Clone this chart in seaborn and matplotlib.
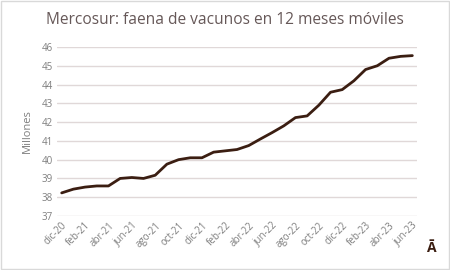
import matplotlib
matplotlib.use("Agg")
import matplotlib.pyplot as plt
import seaborn as sns
import pandas as pd
from matplotlib.patches import Rectangle

months = ["dic-20", "ene-21", "feb-21", "mar-21", "abr-21", "may-21", "jun-21", "jul-21",
          "ago-21", "sep-21", "oct-21", "nov-21", "dic-21", "ene-22", "feb-22", "mar-22",
          "abr-22", "may-22", "jun-22", "jul-22", "ago-22", "sep-22", "oct-22", "nov-22",
          "dic-22", "ene-23", "feb-23", "mar-23", "abr-23", "may-23", "jun-23"]
faena = [38.23, 38.43, 38.54, 38.60, 38.60, 39.00, 39.05, 39.00, 39.17, 39.76,
         40.00, 40.10, 40.10, 40.40, 40.47, 40.54, 40.75, 41.10, 41.44, 41.80,
         42.24, 42.33, 42.90, 43.59, 43.73, 44.20, 44.80, 45.00, 45.40, 45.50, 45.54]
yticks = list(range(37, 47))

df = pd.DataFrame({"idx": range(len(months)), "mes": months, "faena": faena})

sns.set_theme(style="white")
plt.rcParams['font.family'] = ['Open Sans', 'DejaVu Sans']

fig = plt.figure(figsize=(4.5, 2.7), dpi=100)
ax = fig.add_axes([0.1267, 0.2, 0.80, 0.626])

sns.lineplot(data=df, x="idx", y="faena", ax=ax, color="#3b1e12", linewidth=2.0)

ax.set_ylim(37, 46)
ax.set_xlim(-0.4, len(months) - 0.6)
ax.set_yticks(yticks)
ax.set_yticklabels([str(v) for v in yticks], fontsize=7, color="#7f7f7f")
ax.set_xticks(df["idx"][::2])
ax.set_xticklabels(months[::2], rotation=45, ha="right", rotation_mode="anchor",
                   fontsize=7, color="#7f7f7f")
ax.yaxis.grid(True, color="#e0d8d8", linewidth=1.0)
ax.set_axisbelow(True)
for s in ax.spines.values():
    s.set_visible(False)
ax.tick_params(axis="both", length=0, pad=3)
ax.set_xlabel("")
ax.set_ylabel("Millones", fontsize=8, color="#7f7f7f", labelpad=6)

fig.text(0.5, 0.925, "Mercosur: faena de vacunos en 12 meses móviles",
         ha="center", va="center", fontsize=11.2, color="#665858")
fig.text(0.957, 0.08, "Ā", ha="center", va="center", fontsize=10, fontweight="bold",
         color="#3b1e12")
fig.patches.append(Rectangle((0.002, 0.003), 0.996, 0.994, transform=fig.transFigure,
                             fill=False, edgecolor="#d9d9d9", linewidth=1.0))

fig.savefig("out.png", dpi=100, facecolor="white")
